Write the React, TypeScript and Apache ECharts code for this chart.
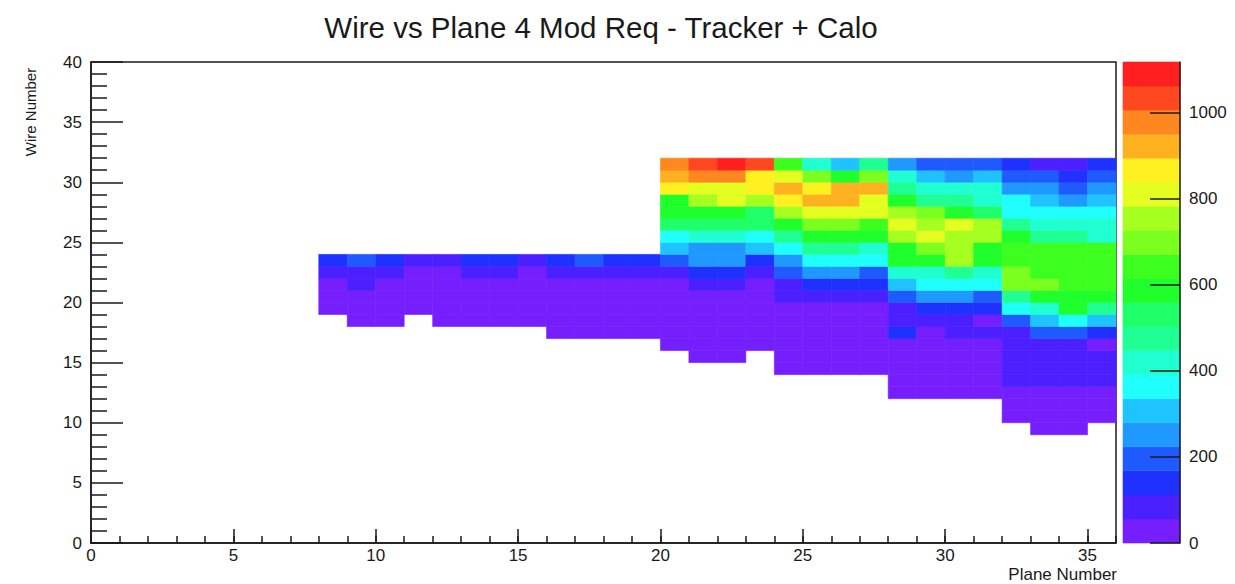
import React, { useEffect, useRef } from "react";
import * as echarts from "echarts";

// ---- data ----
const titleText = "Wire vs Plane 4 Mod Req - Tracker + Calo";
const xTitle = "Plane Number";
const yTitle = "Wire Number";

const planeFirst = 8; // first filled plane bin
// lowest filled wire bin for each plane 8..35
const wireLow = [19, 18, 18, 19, 18, 18, 18, 18, 17, 17, 17, 17, 16, 15, 15, 16, 14, 14, 14, 14, 12, 12, 12, 12, 10, 9, 9, 10];
// bin contents for each plane, from wireLow upward
const counts: number[][] = [
  [30, 30, 30, 85, 140],
  [30, 30, 30, 85, 85, 195],
  [30, 30, 30, 30, 85, 140],
  [30, 30, 30, 30, 85],
  [30, 30, 30, 30, 30, 85],
  [30, 30, 30, 30, 85, 140],
  [30, 30, 30, 30, 85, 140],
  [30, 30, 30, 30, 30, 85],
  [30, 30, 30, 30, 30, 85, 140],
  [30, 30, 30, 30, 30, 85, 195],
  [30, 30, 30, 30, 30, 85, 140],
  [30, 30, 30, 30, 30, 85, 140],
  [30, 30, 30, 30, 30, 30, 85, 195, 305, 365, 530, 585, 585, 865, 920, 975],
  [30, 30, 30, 30, 30, 30, 85, 140, 250, 250, 420, 530, 585, 755, 810, 975, 1035],
  [30, 30, 30, 30, 30, 30, 85, 140, 250, 250, 420, 530, 585, 810, 810, 975, 1117],
  [30, 30, 30, 30, 30, 30, 85, 140, 305, 365, 530, 530, 755, 865, 865, 1035],
  [30, 30, 30, 30, 30, 30, 85, 85, 195, 250, 365, 475, 585, 755, 865, 920, 810, 640],
  [30, 30, 30, 30, 30, 30, 85, 140, 250, 365, 475, 585, 700, 810, 920, 865, 700, 420],
  [30, 30, 30, 30, 30, 30, 85, 140, 250, 365, 475, 585, 700, 810, 920, 920, 585, 305],
  [30, 30, 30, 30, 30, 30, 85, 140, 195, 365, 420, 585, 640, 810, 810, 920, 700, 475],
  [30, 30, 30, 30, 30, 140, 85, 85, 195, 305, 420, 585, 585, 755, 810, 755, 585, 475, 420, 250],
  [30, 30, 30, 30, 30, 30, 85, 140, 250, 365, 420, 585, 700, 810, 755, 700, 475, 420, 305, 195],
  [30, 30, 30, 30, 30, 85, 85, 140, 250, 365, 475, 755, 755, 755, 810, 585, 475, 420, 250, 195],
  [30, 30, 30, 30, 30, 85, 30, 140, 195, 365, 420, 585, 585, 755, 755, 530, 420, 420, 305, 195],
  [30, 30, 30, 85, 85, 85, 85, 85, 195, 365, 475, 700, 700, 640, 640, 585, 475, 365, 365, 250, 195, 140],
  [30, 30, 30, 30, 85, 85, 85, 85, 195, 305, 420, 585, 700, 640, 640, 640, 475, 420, 365, 305, 250, 195, 85],
  [30, 30, 30, 30, 85, 85, 85, 85, 195, 365, 585, 585, 640, 640, 640, 640, 475, 420, 365, 250, 195, 140, 85],
  [30, 30, 30, 85, 85, 85, 30, 140, 305, 475, 585, 640, 640, 640, 640, 420, 420, 365, 305, 250, 195, 140],
];

const xMajorTicks = [0, 5, 10, 15, 20, 25, 30, 35];
const xMinorTicks = Array.from({ length: 37 }, (_, i) => i);
const zTicks = [0, 200, 400, 600, 800, 1000];
const nContours = 20;

// ---- ROOT "pretty palette" (violet -> red) ----
function hls(h: number, l: number, s: number): string {
  const c = (1 - Math.abs(2 * l - 1)) * s;
  const hp = h / 60;
  const x = c * (1 - Math.abs((hp % 2) - 1));
  let r = 0, g = 0, b = 0;
  if (hp < 1) { r = c; g = x; }
  else if (hp < 2) { r = x; g = c; }
  else if (hp < 3) { g = c; b = x; }
  else if (hp < 4) { g = x; b = c; }
  else if (hp < 5) { r = x; b = c; }
  else { r = c; b = x; }
  const m = l - c / 2;
  const f = (v: number) => Math.round((v + m) * 255);
  return `rgb(${f(r)},${f(g)},${f(b)})`;
}
const palette = Array.from({ length: nContours }, (_, k) => {
  const idx = Math.floor(((k + 0.99) * 50) / nContours);
  const hue = Math.max(0, 280 - (idx + 1) * 5.6);
  return hls(hue, 0.56, 1);
});

const FONT = "'Liberation Sans', Arial, Helvetica, sans-serif";
const INK = "#1a1a1a";

export default function App() {
  const ref = useRef<HTMLDivElement>(null);
  useEffect(() => {
    document.body.style.margin = "0";
    if (!ref.current) return;
    const chart = echarts.init(ref.current, null, { renderer: "svg" });

    const zMax = Math.max(...counts.flat());
    const band = zMax / nContours;
    const cells: number[][] = [];
    counts.forEach((col, i) => {
      col.forEach((v, j) => cells.push([planeFirst + i, wireLow[i] + j, v]));
    });
    const bands = palette.map((_, k) => [k * band, (k + 1) * band, k]);
    const colorOf = (v: number) => palette[Math.min(nContours - 1, Math.floor(v / band))];

    const line = { color: INK, width: 1.5 };
    const label = { fontSize: 17, color: INK, fontFamily: FONT };

    chart.setOption({
      animation: false,
      backgroundColor: "#ffffff",
      grid: [
        { left: 91, top: 62, width: 1025, height: 481, show: true, borderColor: INK, borderWidth: 1.5, backgroundColor: "transparent" },
        { left: 1123, top: 62, width: 57, height: 481 },
      ],
      xAxis: [
        {
          type: "value", gridIndex: 0, min: 0, max: 36, z: 5,
          axisLine: { show: true, onZero: false, lineStyle: line },
          axisTick: { show: true, inside: true, length: 14, lineStyle: line, customValues: xMajorTicks },
          axisLabel: { ...label, margin: 4, customValues: xMajorTicks },
          splitLine: { show: false },
        },
        {
          type: "value", gridIndex: 0, min: 0, max: 36, position: "bottom", z: 5,
          axisLine: { show: false, onZero: false },
          axisTick: { show: true, inside: true, length: 7, lineStyle: line, customValues: xMinorTicks },
          axisLabel: { show: false },
          splitLine: { show: false },
        },
        { type: "value", gridIndex: 1, min: 0, max: 1, show: false },
      ],
      yAxis: [
        {
          type: "value", gridIndex: 0, min: 0, max: 40, interval: 5, z: 5,
          axisLine: { show: true, onZero: false, lineStyle: line },
          axisTick: { show: true, inside: true, length: 32, lineStyle: line },
          minorTick: { show: true, splitNumber: 5, length: 16, lineStyle: line },
          axisLabel: { ...label, margin: 9 },
          splitLine: { show: false },
        },
        {
          type: "value", gridIndex: 1, min: 0, max: zMax, position: "right", z: 5,
          axisLine: { show: true, onZero: false, lineStyle: line },
          axisTick: { show: true, inside: true, length: 30, lineStyle: line, customValues: zTicks },
          axisLabel: { ...label, margin: 9, customValues: zTicks, formatter: (v: number) => String(v) },
          splitLine: { show: false },
        },
      ],
      series: [
        {
          type: "custom",
          xAxisIndex: 0,
          yAxisIndex: 0,
          data: cells,
          renderItem: (params: any, api: any) => {
            const x = api.value(0), y = api.value(1), v = api.value(2);
            const p0 = api.coord([x, y + 1]);
            const p1 = api.coord([x + 1, y]);
            const c = colorOf(v);
            return {
              type: "rect",
              shape: { x: p0[0], y: p0[1], width: p1[0] - p0[0], height: p1[1] - p0[1] },
              style: { fill: c, stroke: c, lineWidth: 0.6 },
            };
          },
          z: 1,
        },
        {
          type: "custom",
          xAxisIndex: 2,
          yAxisIndex: 1,
          data: bands,
          renderItem: (params: any, api: any) => {
            const lo = api.value(0), hi = api.value(1), k = api.value(2);
            const p0 = api.coord([0, hi]);
            const p1 = api.coord([1, lo]);
            const c = palette[k];
            return {
              type: "rect",
              shape: { x: p0[0], y: p0[1], width: p1[0] - p0[0], height: p1[1] - p0[1] },
              style: { fill: c, stroke: c, lineWidth: 0.6 },
            };
          },
          z: 1,
        },
      ],
      graphic: [
        { type: "text", x: 601, y: 27, style: { text: titleText, font: `29.5px ${FONT}`, fill: INK, textAlign: "center", textVerticalAlign: "middle" } },
        { type: "text", x: 30, y: 112, rotation: Math.PI / 2, style: { text: yTitle, font: `15px ${FONT}`, fill: INK, textAlign: "center", textVerticalAlign: "middle" } },
        { type: "text", x: 1117, y: 574, style: { text: xTitle, font: `17px ${FONT}`, fill: INK, textAlign: "right", textVerticalAlign: "middle" } },
      ],
    });
    return () => chart.dispose();
  }, []);
  return <div ref={ref} style={{ width: 1235, height: 584 }} />;
}
